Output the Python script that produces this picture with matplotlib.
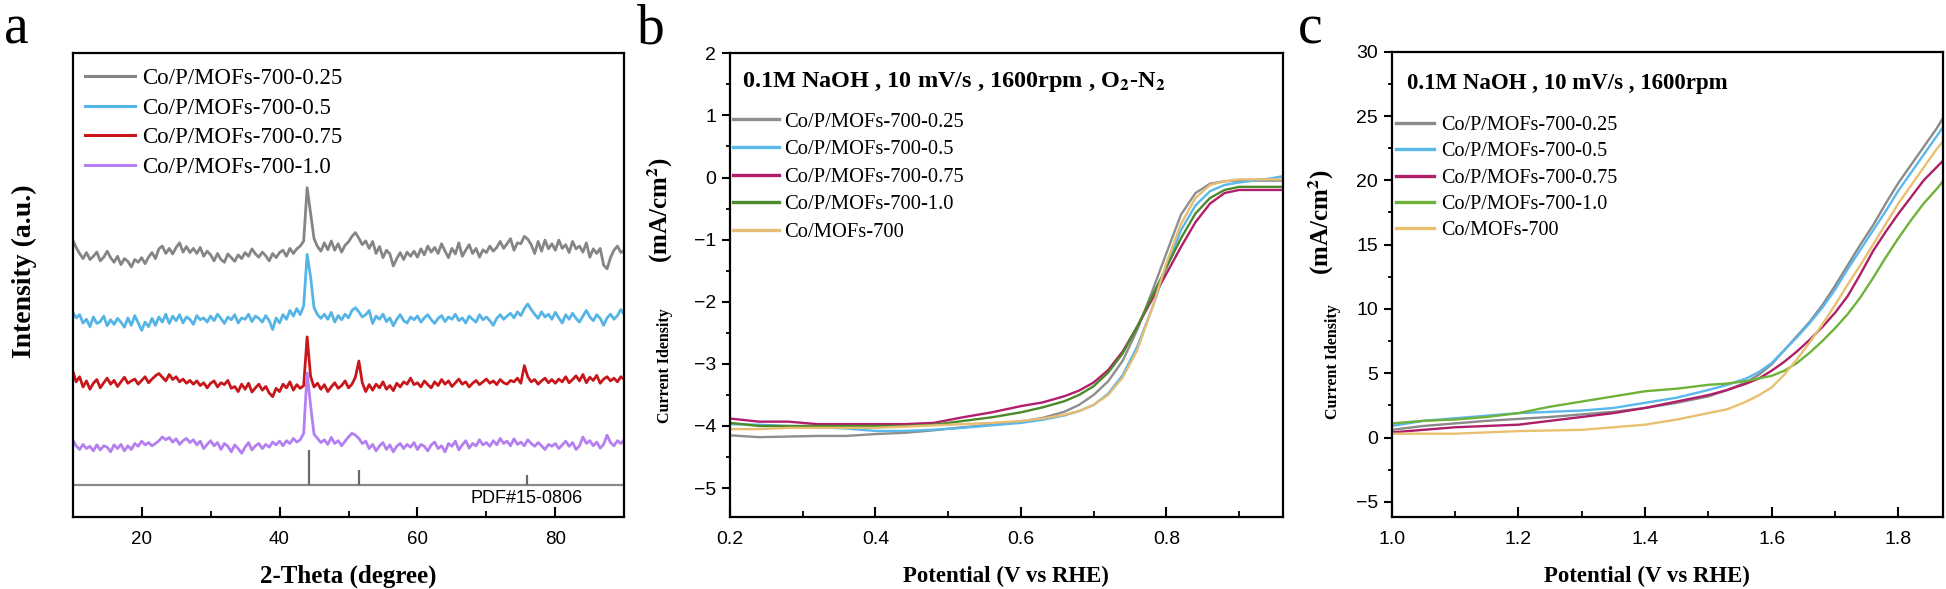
import matplotlib
matplotlib.use("Agg")
import matplotlib.pyplot as plt
import numpy as np
from matplotlib.ticker import MultipleLocator, FormatStrFormatter

plt.rcParams["font.family"] = ["Liberation Sans", "DejaVu Sans"]
plt.rcParams["mathtext.fontset"] = "stix"
SERIF = ["Liberation Serif", "DejaVu Serif"]

# ---------------- panel a : XRD (intensity, a.u., 0.5 deg steps) ----------------
two_theta = np.arange(10, 90.5, 0.5)

xrd_025 = [3.2, 1.6, 0.3, -0.8, 0.5, -1.0, -0.3, 0.6, -1.3, -0.5, 0.8, -0.6, -1.6, -0.3, -2.1, -0.8, -1.4, -2.6, -1.0, -1.6,
           -0.6, -1.9, -0.5, 0.5, -0.8, 1.3, 1.9, 0.3, 1.4, 0.2, 1.6, 2.6, 0.6, 1.8, 0.5, 1.4, 0.3, 1.6, -0.3, 0.8,
           0.0, -1.3, 0.3, -1.0, -1.6, 0.2, -0.6, -1.4, 0.0, -0.8, 0.5, -0.3, 1.3, 0.2, -0.5, 0.6, -0.2, -1.3, 0.3, -0.6,
           0.5, 1.0, -0.3, 1.4, 0.3, 1.3, 1.9, 3.0, 14.5, 9.0, 3.5, 1.8, 0.8, 2.6, 1.1, 3.0, 1.0, 2.4, 0.6, 2.1,
           2.8, 4.0, 4.8, 3.6, 2.2, 3.0, 1.4, 2.9, 0.3, 1.8, -0.6, 1.0, 0.2, -2.4, -0.8, 0.5, -1.0, 0.6, -0.3, 0.8,
           -0.5, 1.3, 0.0, 1.9, 0.6, 1.6, 0.3, 2.4, 0.8, -0.6, 1.4, 0.2, 2.6, -0.3, 1.0, 2.2, 0.3, 1.4, -0.5, 1.1,
           0.5, 1.9, 0.8, 1.6, 2.9, 1.4, 2.4, 3.5, 1.0, 2.6, 2.4, 4.0, 3.4, 2.2, 0.3, 2.9, 0.8, 3.2, 1.3, 2.4,
           1.0, 3.2, 1.4, 2.2, 0.5, 2.9, 1.3, 1.9, 0.6, 2.6, -0.5, 1.3, 0.3, 1.4, -2.2, -3.0, -0.6, 1.0, 1.9, 0.5,
           1.0]
xrd_05 = [1.9, 0.6, 1.3, -0.5, 0.3, -1.3, 0.8, -0.6, -0.2, 1.0, -1.1, 0.2, -0.8, 0.5, -0.3, -1.4, 0.6, -1.0, 1.1, -0.5,
          -2.1, -0.3, -1.3, 0.5, -1.0, 0.8, -0.3, 1.4, -0.6, 1.0, 0.0, 1.3, -0.5, 0.8, 0.3, -0.8, 1.1, 0.2, 0.6, -0.3,
          1.0, 0.0, 1.4, 0.5, -0.6, 0.8, 0.2, 1.3, -0.5, 0.6, 0.3, 1.4, -0.2, 1.0, 0.5, -0.3, 1.1, 0.0, -1.9, 0.6,
          -0.5, 1.3, 0.3, 2.2, 1.0, 2.6, 1.3, 3.2, 14.3, 9.5, 2.8, 1.3, 0.5, 1.4, 0.3, 1.8, -0.3, 1.1, 0.2, 1.4,
          0.6, 2.2, 2.8, 1.9, 0.8, 1.3, 2.2, -0.6, 1.0, 0.3, 1.4, -0.2, 0.6, -1.1, 0.3, 1.3, 0.0, -0.5, 0.8, 0.2,
          1.0, -0.3, 0.6, 1.3, 0.2, -0.6, 0.5, 1.1, -0.2, 0.8, 0.3, 1.4, 0.0, 0.6, -0.5, 1.0, 0.3, -0.3, 1.3, 0.2,
          0.8, 0.0, -1.0, 0.5, 1.3, 0.3, 1.0, 1.6, 0.6, 1.9, 1.1, 2.6, 3.6, 2.4, 1.4, 0.5, 1.9, 0.8, 1.4, 0.3,
          1.8, 0.6, -0.5, 1.3, 0.3, 1.6, 0.5, -0.3, 1.0, 2.2, 0.8, 0.0, 1.3, 0.5, -1.0, 0.6, 1.4, 0.3, 1.1, 2.4,
          1.3]
xrd_075 = [3.2, 0.8, 1.9, -0.3, 1.0, -0.8, 0.5, 1.3, -0.5, 0.6, 1.6, 0.3, 1.1, -0.2, 0.8, 1.8, 0.5, 1.0, 1.4, 0.3,
           1.1, 1.9, 0.6, 1.4, 2.1, 2.6, 1.8, 1.0, 2.4, 1.3, 1.9, 0.8, 1.4, 0.5, 1.1, 0.3, 1.0, 0.0, 0.6, -0.5,
           0.5, 1.0, -0.3, 0.6, 0.2, 1.1, -0.6, -0.2, -1.3, 0.3, -0.8, 0.5, -1.4, -0.5, 0.3, -1.0, -0.2, -1.6, -2.4, -0.6,
           -1.3, 0.3, -0.5, 0.8, -1.0, 0.2, -0.6, 0.0, 10.5, 2.0, -0.3, 0.5, -0.8, 0.2, -1.3, -0.3, 0.6, -0.6, 0.0, 1.0,
           -0.5, 0.3, 1.8, 5.3, 0.6, -1.3, 0.2, -1.0, 0.3, -0.5, 0.8, -0.8, 0.0, -1.1, 0.5, -0.3, 0.8, 0.3, 1.6, 0.2,
           0.6, -0.3, 1.0, 0.2, -0.5, 0.8, 0.0, 1.3, 0.3, 1.0, -0.2, 0.6, 1.4, 0.3, 0.8, -0.3, 0.5, 1.1, 0.2, 0.8,
           1.4, 0.5, 1.0, 0.2, 1.3, 0.6, 0.3, 1.1, 0.8, 1.6, 0.5, 4.3, 1.9, 0.8, 1.3, 0.3, 1.0, 1.6, 0.6, 1.3,
           0.5, 1.4, 0.8, 1.9, 0.6, 1.3, 2.1, 1.0, 2.4, 0.6, 1.8, 1.1, 2.2, 0.5, 1.4, 1.9, 1.0, 1.6, 0.8, 1.9,
           1.3]
xrd_10 = [1.6, 0.3, -0.5, 0.6, -0.3, 0.2, -0.8, 0.5, -0.6, 0.3, 0.0, -1.0, 0.5, -0.3, 0.6, -0.8, 0.3, -0.5, 0.8, 0.2,
          1.3, 0.5, 1.0, 0.3, 0.8, 1.4, 2.2, 1.6, 2.1, 1.1, 1.8, 0.6, 1.4, 1.9, 1.0, 1.6, 0.5, 1.3, -0.3, 0.6,
          1.4, 0.3, 1.0, -0.5, 0.8, 0.2, -1.0, 0.5, -0.3, -1.3, 0.0, 1.0, -0.6, 0.3, 0.8, -0.3, 0.6, 0.0, 1.1, 0.5,
          1.3, 0.3, 1.4, 0.8, 1.9, 1.1, 1.6, 3.0, 16.0, 9.0, 2.8, 1.9, 1.0, 1.6, 0.6, 2.1, 0.8, 1.4, 0.3, 1.3,
          2.2, 3.0, 2.6, 1.9, 0.8, 1.3, -0.3, 0.6, -0.8, 0.3, 1.0, -0.5, 0.5, -1.0, 0.2, 0.8, -0.3, 0.6, 0.0, 1.0,
          -0.5, 0.6, 0.2, -0.8, 0.5, 1.1, -0.3, 0.3, -1.0, 0.8, 0.2, 1.3, -0.6, 0.5, 1.4, -0.2, 0.8, 0.3, 1.6, 0.5,
          1.0, 0.2, 1.4, 0.5, 1.9, 0.8, 1.3, 0.3, 1.8, 0.6, 1.1, 0.3, 1.6, 0.8, 0.2, 1.0, 0.3, -0.5, 0.6, 0.2,
          0.8, -0.3, 0.5, 1.3, 0.2, 1.0, -0.5, 0.3, 2.2, 0.8, 1.4, 0.3, 1.1, -0.2, 0.6, 2.6, 1.0, 0.3, 1.4, 0.8,
          1.6]
xrd_labels = ["Co/P/MOFs-700-0.25", "Co/P/MOFs-700-0.5", "Co/P/MOFs-700-0.75", "Co/P/MOFs-700-1.0"]

# PDF#15-0806 reference lines (height in a.u.)
pdf_pos = [44.2, 51.5, 75.9]
pdf_int = [7.5, 3.3, 2.2]

# ---------------- panel b : ORR LSV ----------------
orr_v = [0.20, 0.24, 0.28, 0.32, 0.36, 0.40, 0.44, 0.48, 0.52, 0.56, 0.60, 0.63, 0.66, 0.68,
         0.70, 0.72, 0.74, 0.76, 0.78, 0.80, 0.82, 0.84, 0.86, 0.88, 0.90, 0.92, 0.94, 0.96]
orr_025 = [-4.15, -4.18, -4.17, -4.16, -4.16, -4.13, -4.11, -4.07, -4.02, -3.98, -3.93, -3.87, -3.77, -3.66,
           -3.50, -3.28, -2.95, -2.45, -1.85, -1.22, -0.60, -0.25, -0.10, -0.06, -0.05, -0.05, -0.05, -0.05]
orr_05 = [-3.97, -3.98, -4.00, -4.02, -4.04, -4.08, -4.08, -4.06, -4.03, -3.99, -3.95, -3.90, -3.83, -3.76,
          -3.66, -3.48, -3.18, -2.72, -2.12, -1.45, -0.85, -0.45, -0.22, -0.12, -0.08, -0.05, -0.02, 0.02]
orr_075 = [-3.88, -3.93, -3.93, -3.97, -3.97, -3.97, -3.97, -3.95, -3.86, -3.78, -3.68, -3.62, -3.52, -3.43,
           -3.30, -3.10, -2.80, -2.40, -1.97, -1.55, -1.12, -0.72, -0.42, -0.25, -0.20, -0.20, -0.20, -0.20]
orr_10 = [-3.95, -4.00, -4.00, -4.00, -4.00, -4.00, -4.00, -3.98, -3.92, -3.86, -3.78, -3.70, -3.60, -3.50,
          -3.36, -3.14, -2.83, -2.40, -1.92, -1.45, -0.98, -0.58, -0.33, -0.20, -0.15, -0.15, -0.15, -0.15]
orr_co = [-4.05, -4.05, -4.03, -4.03, -4.03, -4.03, -4.01, -3.99, -3.97, -3.95, -3.92, -3.88, -3.82, -3.76,
          -3.66, -3.50, -3.22, -2.78, -2.12, -1.38, -0.75, -0.33, -0.12, -0.06, -0.03, -0.03, -0.03, -0.03]

# ---------------- panel c : OER LSV ----------------
oer_v = [1.00, 1.05, 1.10, 1.15, 1.20, 1.25, 1.30, 1.35, 1.40, 1.45, 1.50, 1.53, 1.56, 1.58, 1.60,
         1.62, 1.64, 1.66, 1.68, 1.70, 1.72, 1.74, 1.76, 1.78, 1.80, 1.82, 1.84, 1.86, 1.87]
oer_025 = [0.6, 0.9, 1.1, 1.3, 1.45, 1.6, 1.8, 2.0, 2.3, 2.7, 3.2, 3.7, 4.3, 4.9, 5.7,
           6.8, 7.9, 9.0, 10.3, 11.8, 13.4, 15.0, 16.5, 18.2, 19.8, 21.2, 22.6, 24.0, 24.8]
oer_05 = [0.9, 1.3, 1.5, 1.7, 1.9, 2.0, 2.1, 2.3, 2.7, 3.1, 3.7, 4.1, 4.6, 5.1, 5.8,
          6.8, 7.8, 8.9, 10.1, 11.5, 13.1, 14.6, 16.1, 17.6, 19.2, 20.6, 22.0, 23.4, 24.1]
oer_075 = [0.4, 0.6, 0.8, 0.9, 1.0, 1.3, 1.6, 1.9, 2.3, 2.8, 3.3, 3.7, 4.2, 4.6, 5.2,
           5.9, 6.7, 7.6, 8.6, 9.7, 11.0, 12.7, 14.5, 16.0, 17.4, 18.7, 20.0, 21.0, 21.5]
oer_10 = [1.1, 1.3, 1.4, 1.6, 1.9, 2.4, 2.8, 3.2, 3.6, 3.8, 4.1, 4.2, 4.4, 4.6, 4.8,
          5.2, 5.8, 6.6, 7.5, 8.5, 9.6, 10.9, 12.4, 14.0, 15.5, 16.9, 18.2, 19.3, 19.9]
oer_co = [0.3, 0.3, 0.3, 0.4, 0.5, 0.55, 0.6, 0.8, 1.0, 1.4, 1.9, 2.2, 2.8, 3.3, 3.9,
          4.9, 6.1, 7.4, 8.8, 10.3, 11.9, 13.4, 15.0, 16.6, 18.2, 19.6, 21.0, 22.4, 23.0]
lsv_labels = ["Co/P/MOFs-700-0.25", "Co/P/MOFs-700-0.5", "Co/P/MOFs-700-0.75",
              "Co/P/MOFs-700-1.0", "Co/MOFs-700"]

W, H = 1946, 589
fig = plt.figure(figsize=(W / 100, H / 100), dpi=100)


def px_axes(x0, y0, x1, y1):
    return fig.add_axes([x0 / W, 1 - y1 / H, (x1 - x0) / W, (y1 - y0) / H])


def style_spines(ax):
    for s in ax.spines.values():
        s.set_linewidth(1.6)


# ---- a ----
ax = px_axes(72.7, 53.3, 624.3, 516.7)
style_spines(ax)
offsets = [56.5, 42.3, 28.3, 15.0]
colors_a = ["#858585", "#55b4e6", "#c8161a", "#b47ff0"]
for ys, off, c, lab in zip([xrd_025, xrd_05, xrd_075, xrd_10], offsets, colors_a, xrd_labels):
    ax.plot(two_theta, np.array(ys) + off, color=c, lw=2.0, label=lab)
sep = 6.8
ax.axhline(sep, color="#8a8a8a", lw=1.6)
ax.vlines(pdf_pos, sep, sep + np.array(pdf_int), color="#6a6a6a", lw=1.6)
ax.text(75.8, 3.9, "PDF#15-0806", ha="center", va="center", fontsize=13)
ax.set_xlim(10, 90)
ax.set_ylim(0, 100)
ax.set_yticks([])
ax.xaxis.set_major_locator(MultipleLocator(20))
ax.xaxis.set_minor_locator(MultipleLocator(10))
ax.tick_params(axis="x", which="major", direction="in", length=7, width=1.5, labelsize=13.5, pad=10)
ax.tick_params(axis="x", which="minor", direction="in", length=4, width=1.3)
ax.set_xlabel("2-Theta (degree)", family=SERIF, fontweight="bold", fontsize=18)
ax.xaxis.set_label_coords(0.5, -0.104)
ax.set_ylabel("Intensity (a.u.)", family=SERIF, fontweight="bold", fontsize=20)
ax.yaxis.set_label_coords(-0.064, 0.53)
leg = ax.legend(loc="upper left", bbox_to_anchor=(0.022, 0.968), frameon=False,
                prop={"family": SERIF, "size": 16.5}, handlelength=2.2, handletextpad=0.3,
                labelspacing=0.37, borderpad=0, borderaxespad=0)
for h in leg.get_lines():
    h.set_linewidth(2.2)


def lsv_axes(x0, x1, top, curves, xv, colors, xlim, ylim, ymaj, ymin, title, leg_anchor, leg_size,
             leg_len, leg_pad, leg_space, lab_x, cur_y, unit_y, xlab_x):
    ax = px_axes(x0, top, x1, 517.3)
    style_spines(ax)
    for ys, c, lab in zip(curves, colors, lsv_labels):
        ax.plot(xv, ys, color=c, lw=1.7, label=lab)
    ax.set_xlim(*xlim)
    ax.set_ylim(*ylim)
    ax.xaxis.set_major_locator(MultipleLocator(0.2))
    ax.xaxis.set_minor_locator(MultipleLocator(0.1))
    ax.yaxis.set_major_locator(MultipleLocator(ymaj))
    ax.yaxis.set_minor_locator(MultipleLocator(ymin))
    ax.tick_params(axis="x", which="major", direction="in", length=7, width=1.5, labelsize=14, pad=10)
    ax.tick_params(axis="x", which="minor", direction="in", length=4, width=1.3)
    ax.tick_params(axis="y", which="major", direction="out", length=6, width=1.5, labelsize=14, pad=4)
    ax.tick_params(axis="y", which="minor", direction="out", length=3, width=1.3)
    ax.set_xlabel("Potential (V vs RHE)", family=SERIF, fontweight="bold", fontsize=16.5)
    ax.xaxis.set_label_coords(xlab_x, -0.104)
    ax.text(*title[1], title[0], transform=ax.transAxes, family=SERIF, fontweight="bold",
            fontsize=title[2], va="center", ha="left")
    # y label is split in two pieces like the original
    fig.text(lab_x[0] / W, 1 - cur_y / H, "Current Idensity", rotation=90, ha="center", va="center",
             family=SERIF, fontweight="bold", fontsize=11.5)
    fig.text(lab_x[1] / W, 1 - unit_y / H, r"(mA/cm$^{\mathbf{2}}$)", rotation=90, ha="center",
             va="center", family=SERIF, fontweight="bold", fontsize=18)
    leg = ax.legend(loc="upper left", bbox_to_anchor=leg_anchor, frameon=False,
                    prop={"family": SERIF, "size": leg_size}, handlelength=leg_len, handletextpad=leg_pad,
                    labelspacing=leg_space, borderpad=0, borderaxespad=0)
    for h in leg.get_lines():
        h.set_linewidth(2.4)
    return ax


axb = lsv_axes(730, 1282.7, 53.3, [orr_025, orr_05, orr_075, orr_10, orr_co], orr_v,
               ["#8e8e8e", "#5ab8ea", "#b21e6c", "#4a8a2a", "#e6bd72"],
               (0.2, 0.96), (-5.47, 2), 1, 0.5,
               (r"0.1M NaOH , 10 mV/s , 1600rpm , O$_\mathbf{2}$-N$_\mathbf{2}$", (0.021, 0.939), 17.5),
               (0.006, 0.873), 14.8, 2.2, 0.26, 0.4, (665, 660), 366, 210, 0.5)
axb.set_xticks([0.2, 0.4, 0.6, 0.8])

axc = lsv_axes(1391.7, 1942.7, 51.7, [oer_025, oer_05, oer_075, oer_10, oer_co], oer_v,
               ["#8a8a8a", "#5ab8ec", "#ae1f68", "#6fb23a", "#e8c070"],
               (1.0, 1.87), (-6.2, 30), 5, 2.5,
               ("0.1M NaOH , 10 mV/s , 1600rpm", (0.027, 0.932), 16.5),
               (0.008, 0.862), 14.5, 1.9, 0.35, 0.36, (1333, 1321), 362, 222, 0.463)
axc.set_xticks([1.0, 1.2, 1.4, 1.6, 1.8])
axc.xaxis.set_major_formatter(FormatStrFormatter("%.1f"))

# panel letters
for letter, xp in [("a", 4), ("b", 637), ("c", 1298)]:
    fig.text(xp / W, 1 - 43 / H, letter, family=SERIF, fontsize=40, ha="left", va="baseline")

fig.savefig("out.png", dpi=100)
